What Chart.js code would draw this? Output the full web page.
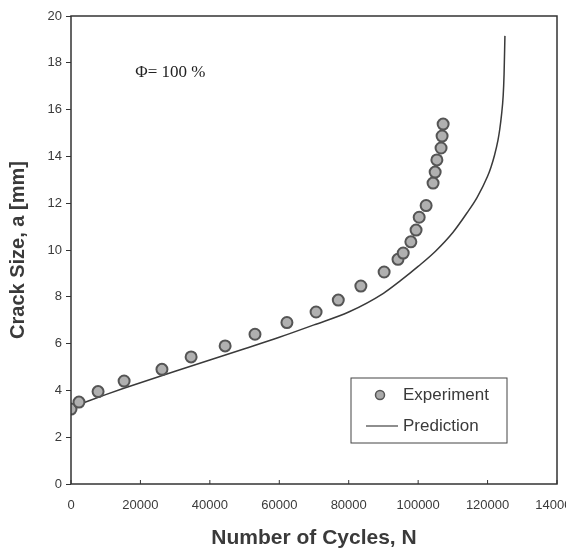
<!DOCTYPE html>
<html>
<head>
<meta charset="utf-8">
<script src="https://cdn.jsdelivr.net/npm/chart.js@4"></script>
<style>
  html, body { margin: 0; padding: 0; background: #fff; overflow: hidden; }
  #wrap { width: 566px; height: 551px; position: relative; }
</style>
</head>
<body>
<div id="wrap"><canvas id="myChart"></canvas></div>
<script>
// experiment data (cycles, crack size mm)
var expN = [0, 2300, 7800, 15300, 26200, 34600, 44400, 53000, 62200, 70600, 77000,
            83500, 90200, 94200, 95700, 97900, 99400, 100300, 102300, 104300, 104900,
            105400, 106600, 106900, 107200];
var expA = [3.2, 3.5, 3.95, 4.4, 4.9, 5.43, 5.9, 6.4, 6.9, 7.35, 7.86,
            8.46, 9.06, 9.6, 9.87, 10.35, 10.85, 11.4, 11.9, 12.86, 13.33,
            13.85, 14.36, 14.87, 15.38];
// prediction curve
var predN = [0, 5000, 10000, 15000, 20000, 30000, 40000, 50000, 60000, 70000, 80000,
             90000, 95000, 100000, 105000, 110000, 114000, 117000, 120000, 121000,
             122000, 123000, 123500, 124000, 124500, 124750, 125000];
var predA = [3.27, 3.55, 3.82, 4.08, 4.33, 4.82, 5.3, 5.78, 6.27, 6.8, 7.35,
             8.15, 8.7, 9.3, 9.95, 10.75, 11.57, 12.25, 13.15, 13.55,
             14.05, 14.7, 15.15, 15.75, 16.6, 17.5, 19.15];
var xTicks = [0, 20000, 40000, 60000, 80000, 100000, 120000, 140000];

var ink = '#333';

var frame = {
  id: 'frame',
  afterDraw: function (chart) {
    var c = chart.ctx, a = chart.chartArea, xs = chart.scales.x, ys = chart.scales.y;
    c.save();
    c.strokeStyle = ink;
    c.lineWidth = 1.5;
    c.strokeRect(a.left, a.top, a.right - a.left, a.bottom - a.top);
    // small inward ticks on the x axis
    c.lineWidth = 1;
    xTicks.forEach(function (v) {
      var px = xs.getPixelForValue(v);
      c.beginPath(); c.moveTo(px, a.bottom); c.lineTo(px, a.bottom - 4); c.stroke();
    });
    // annotation
    c.fillStyle = '#222';
    c.font = '17px "Liberation Serif", "Times New Roman", serif';
    c.textBaseline = 'middle';
    c.fillText('\u03A6= 100 %', xs.getPixelForValue(18500), ys.getPixelForValue(17.6));
    // legend box
    var bx = a.right - 206, by = a.top + 362, bw = 156, bh = 65;
    c.lineWidth = 1;
    c.strokeStyle = '#444';
    c.strokeRect(bx, by, bw, bh);
    c.beginPath();
    c.arc(bx + 29, by + 17, 4.5, 0, Math.PI * 2);
    c.fillStyle = '#aaa'; c.fill();
    c.lineWidth = 1.5; c.strokeStyle = '#555'; c.stroke();
    c.beginPath(); c.moveTo(bx + 15, by + 48); c.lineTo(bx + 47, by + 48);
    c.lineWidth = 1.2; c.strokeStyle = '#444'; c.stroke();
    c.fillStyle = '#3a3a3a';
    c.font = '17px "Liberation Sans", Arial, sans-serif';
    c.fillText('Experiment', bx + 52, by + 17);
    c.fillText('Prediction', bx + 52, by + 48);
    c.restore();
  }
};

var ctx = document.getElementById('myChart').getContext('2d');
var myChart = new Chart(ctx, {
  type: 'scatter',
  data: {
    datasets: [
      {
        label: 'Experiment',
        data: expN.map(function (n, i) { return { x: n, y: expA[i] }; }),
        pointRadius: 5.5,
        pointBackgroundColor: '#b0b0b0',
        pointBorderColor: '#555',
        pointBorderWidth: 2,
        showLine: false
      },
      {
        label: 'Prediction',
        data: predN.map(function (n, i) { return { x: n, y: predA[i] }; }),
        showLine: true,
        pointRadius: 0,
        borderColor: '#3a3a3a',
        borderWidth: 1.5,
        cubicInterpolationMode: 'monotone'
      }
    ]
  },
  options: {
    responsive: true,
    maintainAspectRatio: false,
    animation: false,
    layout: { padding: { left: 6, right: 9, top: 16, bottom: 0 } },
    plugins: { legend: { display: false }, tooltip: { enabled: false } },
    scales: {
      x: {
        type: 'linear', min: 0, max: 140000,
        afterBuildTicks: function (s) { s.ticks = xTicks.map(function (v) { return { value: v }; }); },
        afterFit: function (s) { s.height = 67; s.paddingRight = 0; s.paddingLeft = 0; },
        grid: { display: false },
        border: { display: false },
        ticks: {
          color: '#3a3a3a', padding: 6, maxRotation: 0, autoSkip: false,
          font: { family: 'Liberation Sans', size: 13 },
          callback: function (v) { return String(v); }
        },
        title: {
          display: true, text: 'Number of Cycles, N', color: '#3a3a3a',
          font: { family: 'Liberation Sans', size: 21, weight: 'bold' },
          padding: { top: 0, bottom: 0 }
        }
      },
      y: {
        min: 0, max: 20,
        afterFit: function (s) { s.width = 65; s.paddingTop = 0; s.paddingBottom = 0; },
        grid: { drawOnChartArea: false, drawTicks: true, tickLength: 5, color: ink },
        border: { display: false },
        ticks: {
          stepSize: 2, color: '#3a3a3a', padding: 4,
          font: { family: 'Liberation Sans', size: 13 }
        },
        title: {
          display: true, text: 'Crack Size, a [mm]', color: '#3a3a3a',
          font: { family: 'Liberation Sans', size: 20, weight: 'bold' },
          padding: { top: 0, bottom: 0 }
        }
      }
    }
  },
  plugins: [frame]
});
</script>
</body>
</html>
